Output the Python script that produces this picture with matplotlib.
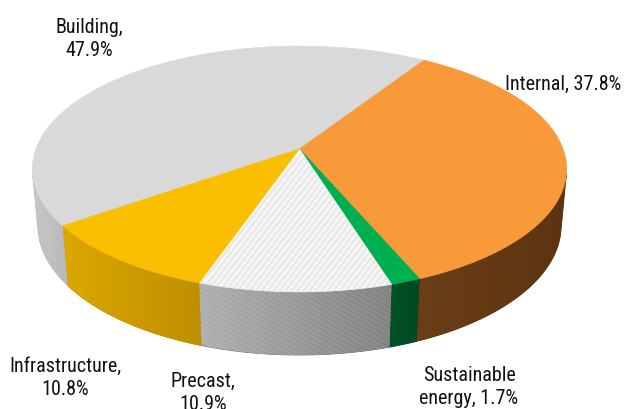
import numpy as np
import matplotlib
matplotlib.use("Agg")
import matplotlib.pyplot as plt
from matplotlib.patches import Polygon
from matplotlib.colors import LinearSegmentedColormap
from matplotlib import font_manager

# ---------------- data ----------------
categories = ["Building", "Internal", "Sustainable energy", "Precast", "Infrastructure"]
shares = [47.9, 37.8, 1.7, 10.9, 10.8]
labels = ["Building,\n47.9%", "Internal, 37.8%", "Sustainable\nenergy, 1.7%",
          "Precast,\n10.9%", "Infrastructure,\n10.8%"]

# ---------------- style ----------------
top_colors = ["#D9D9D9", "#F8993A", "#00AF50", "#F7F7F7", "#F9BF00"]
side_colors = [("#C6C6C6", "#B9B9B9"), ("#6B3E17", "#5C3412"), ("#005226", "#004A21"),
               ("#A9A9A9", "#777777"), ("#DCA700", "#BE8F00")]
label_pos = [(89, 33), (563, 90), (469, 381), (203, 387), (65, 372)]  # first-line baselines
line_gap = 23

# perspective camera
elev = np.radians(27.0)
s_e, c_e = np.sin(elev), np.cos(elev)
dist = 5.48
focal = 1444.0
cx, cy = 299.5, 150.0
height = 0.243
first_boundary = 57.5   # angle (deg) where the Internal slice starts


def proj(X, Y, Z):
    X = np.asarray(X, float); Y = np.asarray(Y, float); Z = np.asarray(Z, float)
    depth = c_e * Y + dist - s_e * Z
    up = s_e * Y + c_e * Z
    return cx + focal * X / depth, cy - focal * up / depth


def rim(theta_deg, z):
    t = np.radians(theta_deg)
    return proj(np.cos(t), np.sin(t), np.full_like(t, z, dtype=float))


fig = plt.figure(figsize=(6.24, 4.10), dpi=100)
ax = fig.add_axes([0, 0, 1, 1])
ax.set_xlim(0, 624)
ax.set_ylim(410, 0)
ax.axis("off")

vals = np.array(shares, float)
spans = vals / vals.sum() * 360.0
start = first_boundary + spans[0]
ends = start - np.cumsum(spans)
starts = ends + spans

# visible range of the side wall (silhouette)
sil = np.degrees(np.arcsin(1.0 / (dist * c_e)))
vis_lo, vis_hi = -180 + sil, -sil

# ---------------- side walls ----------------
for i in range(len(vals)):
    for k in (-1, 0, 1):
        lo = max(ends[i] + 360 * k, vis_lo)
        hi = min(starts[i] + 360 * k, vis_hi)
        if hi <= lo:
            continue
        th = np.linspace(lo, hi, 80)
        xt, yt = rim(th, 0.0)
        xb, yb = rim(th[::-1], -height)
        pts = np.column_stack([np.concatenate([xt, xb]), np.concatenate([yt, yb])])
        poly = Polygon(pts, closed=True, facecolor=side_colors[i][1],
                       edgecolor=side_colors[i][1], lw=0.6, zorder=1)
        ax.add_patch(poly)
        cmap = LinearSegmentedColormap.from_list("g%d" % i, side_colors[i])
        x0, x1 = pts[:, 0].min(), pts[:, 0].max()
        y0, y1 = pts[:, 1].min(), pts[:, 1].max()
        grad = np.linspace(0, 1, 256)[None, :]
        im = ax.imshow(grad, cmap=cmap, extent=(x0, x1, y1, y0), aspect="auto",
                       zorder=1.1, interpolation="bilinear")
        im.set_clip_path(poly)
        if categories[i] == "Precast":
            for off in np.arange(x0 - 120, x1 + 10, 9.0):
                ln, = ax.plot([off, off + 160], [y0 - 10, y0 - 10 + 160 * 0.55],
                              color="white", alpha=0.13, lw=2.6, zorder=1.2,
                              solid_capstyle="butt")
                ln.set_clip_path(poly)

# ---------------- top face ----------------
ax0, ay0 = proj(0.0, 0.0, 0.0)
for i in range(len(vals)):
    th = np.linspace(starts[i], ends[i], 200)
    xt, yt = rim(th, 0.0)
    pts = np.column_stack([np.concatenate([[ax0], xt]), np.concatenate([[ay0], yt])])
    poly = Polygon(pts, closed=True, facecolor=top_colors[i], edgecolor=top_colors[i],
                   lw=0.5, zorder=2)
    ax.add_patch(poly)
    if categories[i] == "Precast":
        x0, x1 = pts[:, 0].min(), pts[:, 0].max()
        y0, y1 = pts[:, 1].min(), pts[:, 1].max()
        for off in np.arange(x0 - 200, x1 + 10, 6.0):
            ln, = ax.plot([off, off + 200 / 1.3], [y1 + 5, y1 + 5 - 200], color="#E8E8E8",
                          lw=1.6, zorder=2.1, solid_capstyle="butt")
            ln.set_clip_path(poly)

# ---------------- labels ----------------
available = {f.name for f in font_manager.fontManager.ttflist}
family = "Liberation Sans"
for cand in ["Liberation Sans Narrow", "Arial Narrow", "Roboto Condensed",
             "Open Sans Condensed", "Liberation Sans"]:
    if cand in available:
        family = cand
        break

# size so that "Internal, 37.8%" is about 117 px wide (max 15 pt)
renderer = fig.canvas.get_renderer()
probe = ax.text(0, 0, "Internal, 37.8%", fontsize=15, family=family)
w = probe.get_window_extent(renderer).width
probe.remove()
fsize = min(15.0, 15.0 * 117.0 / w)

for (lx, ly), lab in zip(label_pos, labels):
    for j, line in enumerate(lab.split("\n")):
        ax.text(lx, ly + j * line_gap, line, ha="center", va="baseline",
                fontsize=fsize, family=family, color="#111111", zorder=5)

fig.savefig("out.png", dpi=100)
